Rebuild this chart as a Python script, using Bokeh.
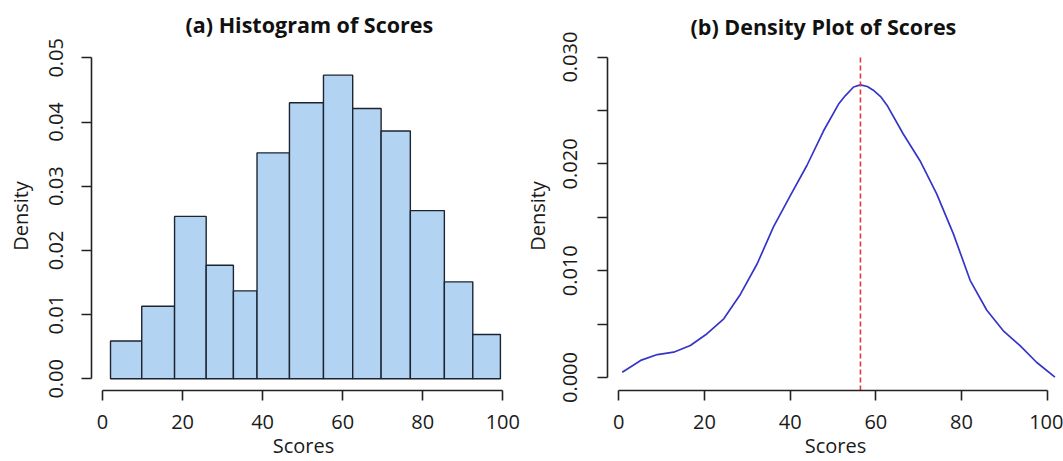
from bokeh.plotting import figure
from bokeh.models import FixedTicker, PrintfTickFormatter, Title, Range1d
from bokeh.layouts import row
from bokeh.embed import file_html
from bokeh.resources import INLINE

# ---------------- data ----------------
bin_edges = [2.0, 9.8, 18.0, 25.9, 32.7, 38.6, 46.7, 55.2, 62.5, 69.6, 76.9, 85.4, 92.5, 99.4]
bin_density = [0.0059, 0.0113, 0.0253, 0.0177, 0.0137, 0.0352, 0.0430, 0.0473,
               0.0421, 0.0386, 0.0262, 0.0151, 0.0069]

density_x = [0.8, 5.1, 9.0, 12.8, 16.7, 20.6, 24.5, 28.4, 32.3, 36.1, 40.0, 43.9, 47.8,
             51.3, 52.9, 54.8, 56.4, 58.0, 59.4, 61.1, 62.6, 66.4, 70.3, 74.2, 78.1,
             82.0, 85.9, 89.7, 93.6, 97.5, 101.8]
density_y = [0.0005, 0.0016, 0.00215, 0.00237, 0.0030, 0.0041, 0.0055, 0.0078, 0.01065,
             0.0141, 0.0170, 0.01985, 0.0231, 0.0256, 0.0264, 0.0272, 0.0274, 0.02725,
             0.0269, 0.0263, 0.0255, 0.0228, 0.0203, 0.0172, 0.01345, 0.0091, 0.0063,
             0.0044, 0.0030, 0.00143, 0.00003]
mean_score = 56.4

x_ticks = [0, 20, 40, 60, 80, 100]
hist_y_ticks = [0.00, 0.01, 0.02, 0.03, 0.04, 0.05]
dens_y_ticks = [0.000, 0.010, 0.020, 0.030]
dens_y_minor = [0.005, 0.015, 0.025]

x_title = "Scores"
y_title = "Density"

FONT = "Open Sans"
AXIS_COL = "#222222"
TXT_COL = "#1a1a1a"


def style_axes(p, ylab_standoffs):
    for ax in (p.xaxis[0], p.yaxis[0]):
        ax.axis_line_color = AXIS_COL
        ax.axis_line_width = 1.6
        ax.major_tick_line_color = AXIS_COL
        ax.major_tick_line_width = 1.6
        ax.major_tick_in = 0
        ax.major_tick_out = 10
        ax.minor_tick_line_color = None
        ax.major_label_text_font = FONT
        ax.major_label_text_font_size = "20px"
        ax.major_label_text_color = TXT_COL
        ax.axis_label_text_font = FONT
        ax.axis_label_text_font_size = "20px"
        ax.axis_label_text_font_style = "normal"
        ax.axis_label_text_color = TXT_COL
    p.xaxis[0].major_label_standoff = 14
    p.xaxis[0].axis_label_standoff = 0
    p.yaxis[0].major_label_orientation = "vertical"
    p.yaxis[0].major_label_standoff = ylab_standoffs[0]
    p.yaxis[0].axis_label_standoff = ylab_standoffs[1]
    p.grid.visible = False
    p.outline_line_color = None
    p.background_fill_color = "white"
    p.border_fill_color = "white"


# ---------------- (a) histogram ----------------
p1 = figure(width=520, height=461, output_backend="svg", toolbar_location=None,
            x_range=Range1d(-2.75, 103.17), y_range=Range1d(-0.00182, 0.05254),
            min_border_left=91, min_border_right=5, min_border_top=41, min_border_bottom=71,
            x_axis_label=x_title, y_axis_label=y_title)
p1.title = Title(text="(a) Histogram of Scores", text_font=FONT, text_font_size="21.5px",
                 text_font_style="bold", text_color="#111111", align="left", offset=94,
                 standoff=6)
p1.quad(left=bin_edges[:-1], right=bin_edges[1:], bottom=0, top=bin_density,
        fill_color="#B3D3F3", line_color="#1c2431", line_width=1.4)
style_axes(p1, (18, 13))
p1.xaxis[0].ticker = FixedTicker(ticks=x_ticks)
p1.xaxis[0].bounds = (0, 100)
p1.yaxis[0].ticker = FixedTicker(ticks=hist_y_ticks)
p1.yaxis[0].formatter = PrintfTickFormatter(format="%.2f")
p1.yaxis[0].bounds = (0, 0.05)

# ---------------- (b) density ----------------
p2 = figure(width=543, height=461, output_backend="svg", toolbar_location=None,
            x_range=Range1d(-2.64, 103.8), y_range=Range1d(-0.001217, 0.03146),
            min_border_left=87, min_border_right=0, min_border_top=41, min_border_bottom=71,
            x_axis_label=x_title, y_axis_label=y_title)
p2.title = Title(text="(b) Density Plot of Scores", text_font=FONT, text_font_size="21.5px",
                 text_font_style="bold", text_color="#111111", align="left", offset=83,
                 standoff=2)
p2.line(density_x, density_y, line_color="#3535c8", line_width=1.7)
p2.segment(x0=[mean_score], y0=[p2.y_range.start], x1=[mean_score], y1=[dens_y_ticks[-1]],
           line_color="#e8343a", line_width=1.6, line_dash="5 3")
style_axes(p2, (20, 10))
p2.xaxis[0].ticker = FixedTicker(ticks=x_ticks)
p2.xaxis[0].bounds = (0, 100)
p2.yaxis[0].ticker = FixedTicker(ticks=dens_y_ticks, minor_ticks=dens_y_minor)
p2.yaxis[0].formatter = PrintfTickFormatter(format="%.3f")
p2.yaxis[0].bounds = (0, 0.03)
p2.yaxis[0].minor_tick_line_color = AXIS_COL
p2.yaxis[0].minor_tick_line_width = 1.6
p2.yaxis[0].minor_tick_in = 0
p2.yaxis[0].minor_tick_out = 10

layout = row(p1, p2)
open("out.html", "w").write(file_html(layout, INLINE))
